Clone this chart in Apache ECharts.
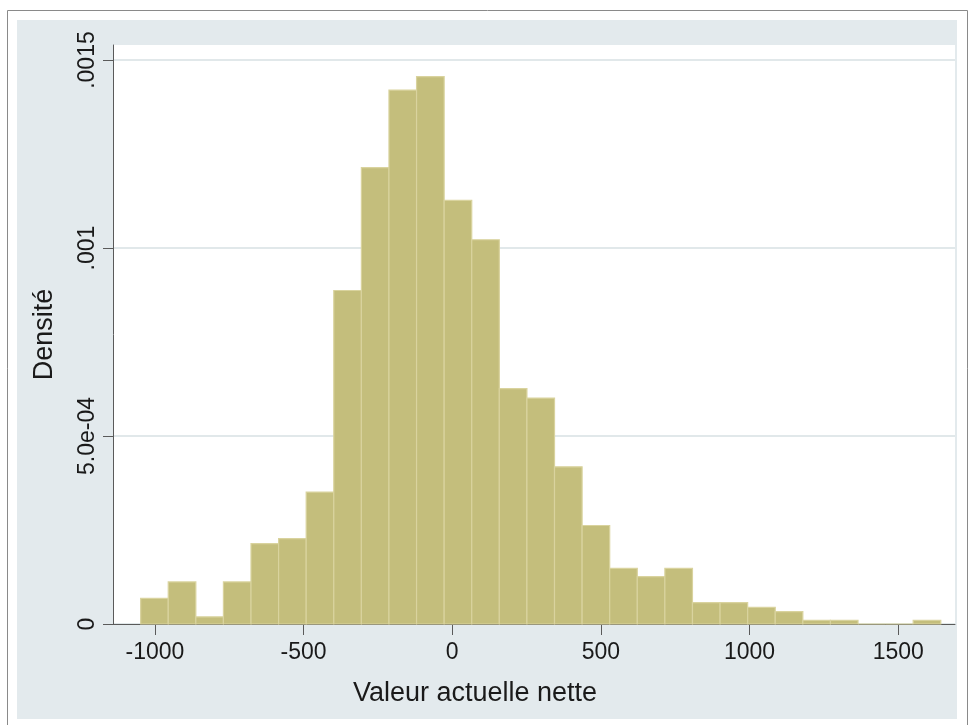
<!DOCTYPE html>
<html>
<head>
<meta charset="utf-8">
<script src="https://cdn.jsdelivr.net/npm/echarts@6/dist/echarts.min.js"></script>
<style>
html,body{margin:0;padding:0;background:#fff;}
#chart{width:975px;height:725px;}
</style>
</head>
<body>
<div id="chart"></div>
<script>
// Histogram bins (Valeur actuelle nette)
var binStart = -1048;
var binWidth = 92.8;
var density = [
  0.000068, 0.000112, 0.000019, 0.000112, 0.000214, 0.000227, 0.000351, 0.000887,
  0.001214, 0.001420, 0.001456, 0.001127, 0.001022, 0.000626, 0.000601, 0.000418,
  0.000262, 0.000148, 0.000126, 0.000148, 0.000057, 0.000057, 0.000044, 0.000033,
  0.000010, 0.000010, 0, 0, 0.000010
];
var xTickValues = [-1000, -500, 0, 500, 1000, 1500];
var xTickLabels = ['-1000', '-500', '0', '500', '1000', '1500'];
var yTickValues = [0, 0.0005, 0.001, 0.0015];
var yTickLabels = ['0', '5.0e-04', '.001', '.0015'];
var xTitle = 'Valeur actuelle nette';
var yTitle = 'Densité';

var histData = density.map(function (d, i) {
  return [binStart + i * binWidth, binStart + (i + 1) * binWidth, d];
});

function lookup(values, labels, v) {
  var best = 0, bd = Infinity;
  for (var i = 0; i < values.length; i++) {
    var dd = Math.abs(values[i] - v);
    if (dd < bd) { bd = dd; best = i; }
  }
  return labels[best];
}

var FONT = "'Liberation Sans', Arial, sans-serif";
var chart = echarts.init(document.getElementById('chart'), null, {renderer: 'canvas'});
chart.setOption({
  animation: false,
  backgroundColor: '#ffffff',
  graphic: {
    elements: [
      {type: 'rect', z: -100, silent: true,
       shape: {x: 7.5, y: 10.5, width: 960, height: 720},
       style: {fill: '#ffffff', stroke: '#8a8a8a', lineWidth: 1}},
      {type: 'rect', z: -99, silent: true,
       shape: {x: 17, y: 20, width: 940, height: 699},
       style: {fill: '#E3EAED'}}
    ]
  },
  grid: {
    left: 113, right: 20, top: 45, bottom: 101,
    show: true, backgroundColor: '#ffffff', borderWidth: 0
  },
  xAxis: {
    type: 'value',
    min: -1141, max: 1691,
    name: xTitle,
    nameLocation: 'middle',
    nameGap: 56,
    nameTextStyle: {fontFamily: FONT, fontSize: 27, color: '#1a1a1a', padding: [0, 118, 0, 0]},
    axisLine: {show: true, onZero: false, lineStyle: {color: '#5a5a5a', width: 1}},
    axisTick: {show: true, length: 11, customValues: xTickValues, lineStyle: {color: '#5a5a5a', width: 1}},
    axisLabel: {
      show: true, customValues: xTickValues, margin: 17,
      fontFamily: FONT, fontSize: 23, color: '#1a1a1a',
      formatter: function (v) { return lookup(xTickValues, xTickLabels, v); }
    },
    splitLine: {show: false}
  },
  yAxis: {
    type: 'value',
    min: 0, max: 0.00154,
    name: yTitle,
    nameLocation: 'middle',
    nameRotate: 90,
    nameGap: 55,
    nameTextStyle: {fontFamily: FONT, fontSize: 27, color: '#1a1a1a'},
    axisLine: {show: true, onZero: false, lineStyle: {color: '#5a5a5a', width: 1}},
    axisTick: {show: true, length: 10, customValues: yTickValues, lineStyle: {color: '#5a5a5a', width: 1}},
    axisLabel: {
      show: true, customValues: yTickValues, rotate: 90, margin: 14,
      fontFamily: FONT, fontSize: 23, color: '#1a1a1a',
      formatter: function (v) { return lookup(yTickValues, yTickLabels, v); }
    },
    splitLine: {show: true, lineStyle: {color: '#E1E8EA', width: 2}}
  },
  series: [{
    type: 'custom',
    data: histData,
    encode: {x: [0, 1], y: 2},
    renderItem: function (params, api) {
      var p0 = api.coord([api.value(0), api.value(2)]);
      var p1 = api.coord([api.value(1), 0]);
      return {
        type: 'rect',
        shape: {x: p0[0], y: p0[1], width: p1[0] - p0[0], height: p1[1] - p0[1]},
        style: {fill: '#C4BE7C', stroke: '#D9D39E', lineWidth: 1.2}
      };
    }
  }]
});
</script>
</body>
</html>
